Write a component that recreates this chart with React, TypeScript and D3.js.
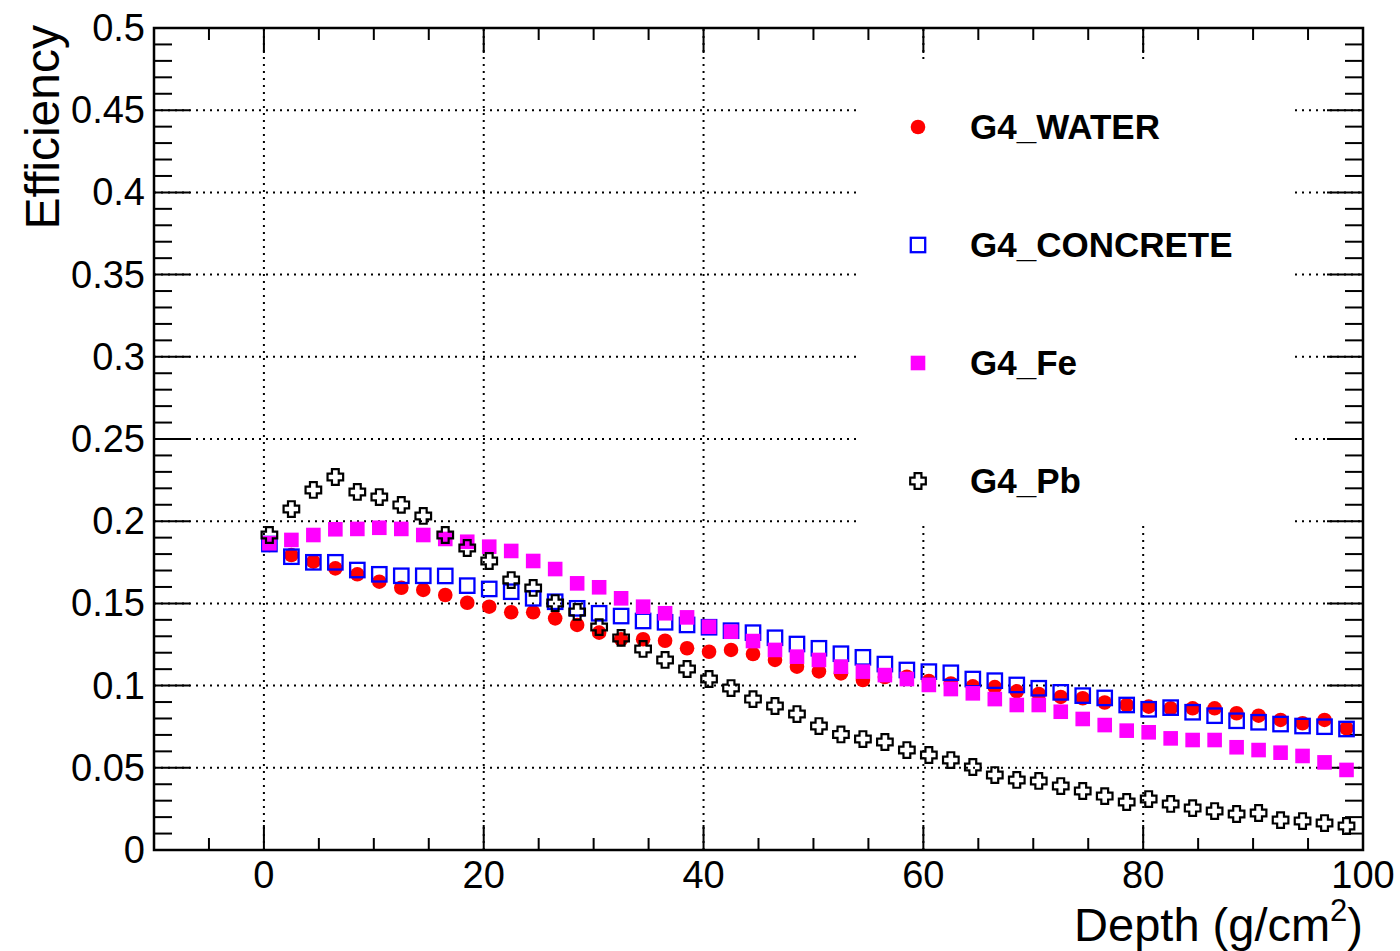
import React from "react";
import * as d3 from "d3";

const depth = [0.5, 2.5, 4.5, 6.5, 8.5, 10.5, 12.5, 14.5, 16.5, 18.5, 20.5, 22.5, 24.5, 26.5, 28.5, 30.5, 32.5, 34.5, 36.5, 38.5, 40.5, 42.5, 44.5, 46.5, 48.5, 50.5, 52.5, 54.5, 56.5, 58.5, 60.5, 62.5, 64.5, 66.5, 68.5, 70.5, 72.5, 74.5, 76.5, 78.5, 80.5, 82.5, 84.5, 86.5, 88.5, 90.5, 92.5, 94.5, 96.5, 98.5];

const water = [0.1855, 0.1794, 0.1754, 0.1713, 0.1677, 0.1632, 0.1595, 0.1582, 0.1551, 0.1504, 0.148, 0.1446, 0.1446, 0.1409, 0.1369, 0.1322, 0.1282, 0.1282, 0.1273, 0.1227, 0.1206, 0.1217, 0.1192, 0.1156, 0.1115, 0.1086, 0.1074, 0.1034, 0.1052, 0.1054, 0.1028, 0.1013, 0.0995, 0.0991, 0.0965, 0.0949, 0.0931, 0.0923, 0.0897, 0.0882, 0.0872, 0.0862, 0.0862, 0.0862, 0.0832, 0.0817, 0.0791, 0.0771, 0.0791, 0.074];

const concrete = [0.1861, 0.1784, 0.175, 0.175, 0.1703, 0.1677, 0.1668, 0.1668, 0.1667, 0.1608, 0.1588, 0.1571, 0.1531, 0.151, 0.147, 0.144, 0.1423, 0.1393, 0.1385, 0.1369, 0.1355, 0.1334, 0.1322, 0.1291, 0.1253, 0.1227, 0.1194, 0.1172, 0.1131, 0.1095, 0.1085, 0.1078, 0.104, 0.103, 0.1004, 0.0984, 0.0959, 0.0939, 0.0925, 0.0882, 0.0856, 0.0866, 0.0838, 0.0817, 0.0786, 0.0777, 0.0766, 0.0754, 0.075, 0.0736];

const fe = [0.1866, 0.1886, 0.1916, 0.1951, 0.1953, 0.196, 0.1953, 0.1916, 0.1892, 0.1875, 0.1845, 0.1819, 0.1758, 0.1709, 0.1622, 0.1598, 0.1531, 0.148, 0.144, 0.1415, 0.1358, 0.1328, 0.1271, 0.1217, 0.1176, 0.1156, 0.1115, 0.1085, 0.1064, 0.104, 0.1004, 0.0979, 0.0953, 0.0918, 0.0882, 0.0882, 0.0841, 0.0797, 0.076, 0.0726, 0.0716, 0.0679, 0.0669, 0.0669, 0.0625, 0.0608, 0.0592, 0.0572, 0.0533, 0.0487];

const pb = [0.1916, 0.2074, 0.219, 0.2269, 0.2178, 0.2147, 0.2099, 0.2032, 0.1916, 0.1837, 0.1758, 0.1642, 0.1594, 0.1502, 0.1448, 0.1356, 0.129, 0.1223, 0.1156, 0.1101, 0.104, 0.0985, 0.0918, 0.0876, 0.0827, 0.0754, 0.0703, 0.0675, 0.0657, 0.0608, 0.0578, 0.0547, 0.0505, 0.0456, 0.0426, 0.042, 0.0389, 0.0359, 0.0328, 0.0292, 0.031, 0.028, 0.0255, 0.0237, 0.0219, 0.0225, 0.0182, 0.0176, 0.0164, 0.0146];

const seriesNames = ["G4_WATER", "G4_CONCRETE", "G4_Fe", "G4_Pb"];
const xTickLabels = [0, 20, 40, 60, 80, 100];
const yTickLabels = [0, 0.05, 0.1, 0.15, 0.2, 0.25, 0.3, 0.35, 0.4, 0.45, 0.5];

const FONT = "'Liberation Sans', Arial, Helvetica, sans-serif";

const L = 154, R = 1363, T = 28, B = 850;
const x = d3.scaleLinear().domain([-10, 100]).range([L, R]);
const y = d3.scaleLinear().domain([0, 0.5]).range([B, T]);

function crossPath(cx: number, cy: number) {
  const a = 3.4, b = 7.8;
  const pts = [
    [-a, -b], [a, -b], [a, -a], [b, -a], [b, a], [a, a], [a, b], [-a, b], [-a, a], [-b, a], [-b, -a], [-a, -a],
  ];
  return "M" + pts.map(([px, py]) => `${cx + px},${cy + py}`).join("L") + "Z";
}

function Marker({ kind, cx, cy }: { kind: number; cx: number; cy: number }) {
  if (kind === 0) return <circle cx={cx} cy={cy} r={7.3} fill="#ff0000" />;
  if (kind === 1)
    return <rect x={cx - 7.2} y={cy - 7.2} width={14.4} height={14.4} fill="none" stroke="#0000ff" strokeWidth={2.3} />;
  if (kind === 2) return <rect x={cx - 7.3} y={cy - 7.3} width={14.6} height={14.6} fill="#ff00ff" />;
  return <path d={crossPath(cx, cy)} fill="none" stroke="#000" strokeWidth={2.2} />;
}

export default function App() {
  const allSeries = [water, concrete, fe, pb];
  const xMinor = d3.range(-10, 100.1, 5);
  const yMinor = d3.range(0, 0.5001, 0.01);
  const legendY = [127, 245, 363, 481];

  return (
    <svg width={1400} height={951} style={{ position: "absolute", left: 0, top: 0, background: "#fff" }}>
      <rect x={0} y={0} width={1400} height={951} fill="#fff" />
      {/* grid */}
      <g stroke="#000" strokeWidth={2} strokeDasharray="2,5">
        {xTickLabels.map((v) => (
          <line key={"gx" + v} x1={x(v)} x2={x(v)} y1={B} y2={T} />
        ))}
        {yTickLabels.map((v) => (
          <line key={"gy" + v} x1={L} x2={R} y1={y(v)} y2={y(v)} />
        ))}
      </g>
      {/* legend box */}
      <rect x={861} y={62} width={429} height={462} fill="#fff" />
      {/* ticks */}
      <g stroke="#000" strokeWidth={2}>
        {xMinor.map((v) => {
          const len = Math.abs(((v % 20) + 20) % 20) < 1e-6 ? 25 : 12;
          return (
            <g key={"xt" + v}>
              <line x1={x(v)} x2={x(v)} y1={B} y2={B - len} />
              <line x1={x(v)} x2={x(v)} y1={T} y2={T + len} />
            </g>
          );
        })}
        {yMinor.map((v, i) => {
          const len = i % 5 === 0 ? 36 : 18;
          return (
            <g key={"yt" + i}>
              <line x1={L} x2={L + len} y1={y(v)} y2={y(v)} />
              <line x1={R} x2={R - len} y1={y(v)} y2={y(v)} />
            </g>
          );
        })}
      </g>
      {/* frame */}
      <rect x={L} y={T} width={R - L} height={B - T} fill="none" stroke="#000" strokeWidth={2.5} />
      {/* data */}
      {allSeries.map((s, si) => (
        <g key={"s" + si}>
          {s.map((v, i) => (
            <Marker key={i} kind={si} cx={x(depth[i])} cy={y(v)} />
          ))}
        </g>
      ))}
      {/* tick labels */}
      <g fontFamily={FONT} fontSize={38} fill="#000">
        {xTickLabels.map((v) => (
          <text key={"xl" + v} x={x(v)} y={888} textAnchor="middle">
            {v}
          </text>
        ))}
        {yTickLabels.map((v) => (
          <text key={"yl" + v} x={145} y={y(v) + 13} textAnchor="end">
            {String(v)}
          </text>
        ))}
      </g>
      {/* axis titles */}
      <text x={R} y={941} textAnchor="end" fontFamily={FONT} fontSize={47} fill="#000">
        Depth (g/cm
        <tspan fontSize={31} dy={-20}>2</tspan>
        <tspan dy={20}>)</tspan>
      </text>
      <text
        transform={`translate(59,${T - 3}) rotate(-90)`}
        textAnchor="end"
        fontFamily={FONT}
        fontSize={48}
        fill="#000"
      >
        Efficiency
      </text>
      {/* legend */}
      {seriesNames.map((n, i) => (
        <g key={"lg" + i}>
          <Marker kind={i} cx={918} cy={legendY[i]} />
          <text x={970} y={legendY[i] + 12} fontFamily={FONT} fontWeight="bold" fontSize={35} fill="#000">
            {n}
          </text>
        </g>
      ))}
    </svg>
  );
}
